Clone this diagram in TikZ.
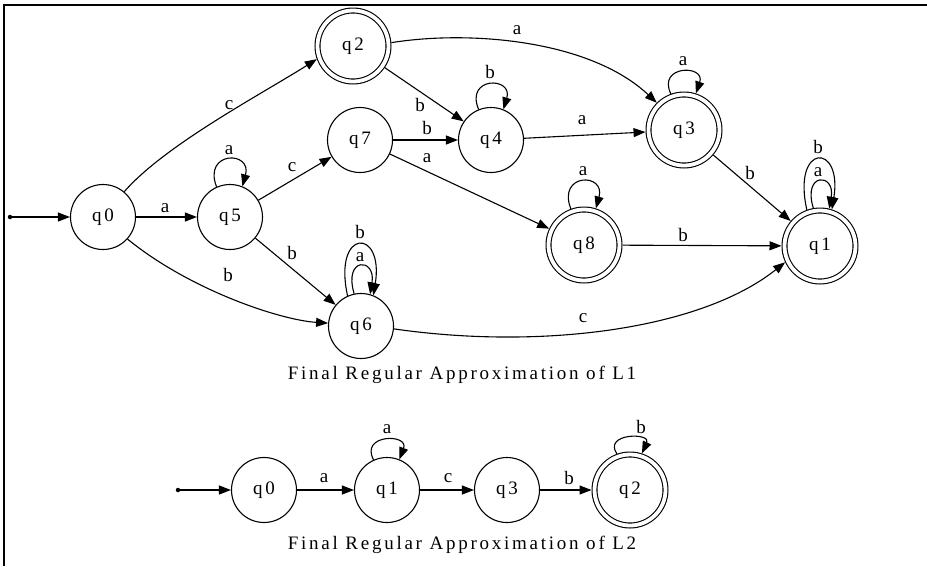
\documentclass[tikz,border=0pt]{standalone}
\usepackage{fontspec}
\setmainfont{Liberation Serif}
\newfontfamily\capfont[LetterSpace=14.5]{Liberation Serif}
\usetikzlibrary{arrows.meta}
\begin{document}
\begin{tikzpicture}[x=1pt,y=-1pt,
  every node/.style={font=\fontsize{19}{21}\selectfont},
  st/.style={circle,draw,line width=1.1pt,minimum size=65pt,inner sep=0pt},
  acc/.style={circle,draw,line width=1.1pt,double,double distance=3.8pt,minimum size=71pt,inner sep=0pt,outer sep=3pt},
  e/.style={line width=1.1pt,-{Triangle[length=12pt,width=9pt]}},
  lab/.style={inner sep=0pt},
  startdot/.style={circle,fill,inner sep=0pt,minimum size=4.5pt},
  captxt/.style={font=\fontsize{19}{21}\capfont}
]
\useasboundingbox (0,0) rectangle (927,566);
\draw[line width=2.6pt] (927,5) -- (4,5) -- (4,566);

% L1
\node[startdot] (s1) at (10,217) {};
\node[st] (q0) at (103,217) {q\kern3pt0};
\node[st] (q5) at (230,217) {q\kern3pt5};
\node[acc] (q2) at (353,46) {q\kern3pt2};
\node[st] (q7) at (360,140) {q\kern3pt7};
\node[st] (q4) at (491,140) {q\kern3pt4};
\node[acc] (q3) at (684,130) {q\kern3pt3};
\node[acc] (q8) at (584,245) {q\kern3pt8};
\node[acc] (q1) at (820,246) {q\kern3pt1};
\node[st] (q6) at (361,326) {q\kern3pt6};
\node[captxt] (cap1) at (462,375) {Final Regular Approximation of L1};

\draw[e] (s1) -- (q0);
\draw[e] (q0) -- (q5) node[lab] at (165,208) {a};
\draw[e] (q0.50) .. controls (165,145) and (260,95) .. (q2.200) node[lab] at (229,105) {c};
\draw[e] (q0.318) .. controls (190,290) and (280,320) .. (q6.175) node[lab] at (228,275) {b};
\draw[e] (q5.114) .. controls +(-14,-36) and +(10,-36) .. (q5.68) node[lab] at (229,150) {a};
\draw[e] (q5) -- (q7) node[lab] at (292,167) {c};
\draw[e] (q5) -- (q6) node[lab] at (292,253) {b};
\draw[e] (q6.114) .. controls +(-15,-68) and +(11,-68) .. (q6.68) node[lab] at (360,232) {b};
\draw[e] (q6.102) .. controls +(-11,-37) and +(6,-37) .. (q6.74) node[lab] at (360,257) {a};
\draw[e] (q2) -- (q4) node[lab] at (420,105) {b};
\draw[e] (q2.5) .. controls (470,30) and (590,40) .. (q3.135) node[lab] at (517,30) {a};
\draw[e] (q4.112) .. controls +(-14,-33) and +(10,-33) .. (q4.68) node[lab] at (490,72) {b};
\draw[e] (q7) -- (q4) node[lab] at (427,128) {b};
\draw[e] (q7) -- (q8) node[lab] at (427,158) {a};
\draw[e] (q4) -- (q3) node[lab] at (582,120) {a};
\draw[e] (q3.110) .. controls +(-14,-29) and +(10,-29) .. (q3.72) node[lab] at (683,61) {a};
\draw[e] (q3) -- (q1) node[lab] at (750,173) {b};
\draw[e] (q8.110) .. controls +(-14,-36) and +(10,-36) .. (q8.72) node[lab] at (583,171) {a};
\draw[e] (q8) -- (q1) node[lab] at (683,235) {b};
\draw[e] (q1.110) .. controls +(-15,-67) and +(11,-67) .. (q1.72) node[lab] at (818,147) {b};
\draw[e] (q1.100) .. controls +(-11,-36) and +(6,-36) .. (q1.76) node[lab] at (818,172) {a};
\draw[e] (q6.355) .. controls (540,350) and (700,330) .. (q1.205) node[lab] at (583,318) {c};

% L2
\node[startdot] (t0) at (178,490) {};
\node[st] (p0) at (264,490) {q\kern3pt0};
\node[st] (p1) at (387,490) {q\kern3pt1};
\node[st] (p3) at (507,490) {q\kern3pt3};
\node[acc] (p2) at (630,490) {q\kern3pt2};
\node[captxt] (cap2) at (462,545) {Final Regular Approximation of L2};

\draw[e] (t0) -- (p0);
\draw[e] (p0) -- (p1) node[lab] at (324,478) {a};
\draw[e] (p1.114) .. controls +(-14,-26) and +(10,-26) .. (p1.68) node[lab] at (387,429) {a};
\draw[e] (p1) -- (p3) node[lab] at (448,478) {c};
\draw[e] (p3) -- (p2) node[lab] at (569,478) {b};
\draw[e] (p2.110) .. controls +(-14,-21) and +(10,-21) .. (p2.72) node[lab] at (641,427) {b};
\end{tikzpicture}
\end{document}
